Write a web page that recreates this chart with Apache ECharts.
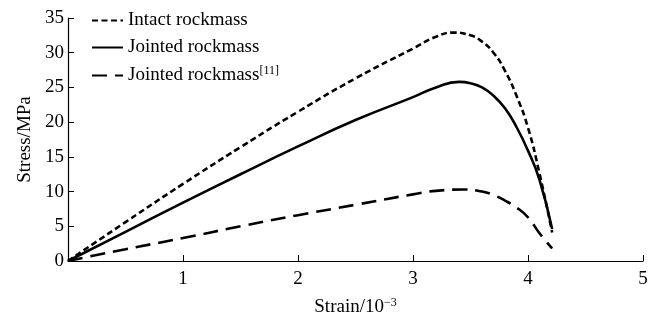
<!DOCTYPE html>
<html lang="en">
<head>
    <meta charset="UTF-8">
    <title>Stress-strain</title>
    <script src="https://cdn.jsdelivr.net/npm/echarts@6/dist/echarts.min.js"></script>
</head>
<body style="margin:0">
    <div id="main" style="width: 655px; height: 322px;"></div>
    <script>
        // strain (10^-3) and stress (MPa)
        const intactStrain = [0, 0.5, 1, 1.5, 2, 2.5, 3, 3.2, 3.35, 3.5, 3.6, 3.7, 3.8, 3.9, 4.0, 4.1, 4.21];
        const intactStress = [0, 5.6, 11.1, 16.4, 21.5, 26.3, 30.6, 32.3, 32.9, 32.5, 31.6, 30.0, 27.4, 23.8, 19.2, 12.6, 4.1];

        const jointStrain = [0, 0.5, 1, 1.5, 2, 2.5, 3, 3.2, 3.4, 3.5, 3.6, 3.7, 3.8, 3.9, 4.0, 4.1, 4.21];
        const jointStress = [0, 4.2, 8.4, 12.5, 16.5, 20.3, 23.6, 25.0, 25.8, 25.6, 25.0, 23.8, 22.0, 19.3, 15.9, 11.7, 4.6];

        const joint11Strain = [0, 0.5, 1, 1.5, 2, 2.5, 3, 3.2, 3.45, 3.6, 3.7, 3.8, 3.9, 4.0, 4.1, 4.21];
        const joint11Stress = [0, 1.7, 3.3, 5.0, 6.6, 8.1, 9.6, 10.1, 10.3, 10.0, 9.5, 8.7, 7.7, 6.3, 4.0, 1.8];

        const seriesNames = ['Intact rockmass', 'Jointed rockmass', 'Jointed rockmass[11]'];

        function pairs(xs, ys) {
            return xs.map((x, i) => [x, ys[i]]);
        }

        const font = 'Liberation Serif';
        var myChart = echarts.init(document.getElementById('main'));

        let option = {
            animation: false,
            grid: { left: 68, right: 12, top: 18, bottom: 56 },
            legend: {
                orient: 'vertical',
                left: 86,
                top: 6,
                itemWidth: 31,
                itemHeight: 10,
                itemGap: 8,
                itemStyle: { opacity: 0 },
                data: seriesNames,
                textStyle: {
                    fontFamily: font,
                    fontSize: 19,
                    color: '#000',
                    rich: {
                        sup: { fontFamily: font, fontSize: 12, color: '#000', padding: [0, 0, 9, 0] }
                    }
                },
                formatter: function (name) {
                    return name.replace('[11]', '{sup|[11]}');
                }
            },
            xAxis: {
                type: 'value',
                min: 0,
                max: 5,
                interval: 1,
                name: 'Strain/10{sup|−3}',
                nameLocation: 'middle',
                nameGap: 36,
                nameTextStyle: {
                    fontFamily: font, fontSize: 19, color: '#000',
                    rich: { sup: { fontFamily: font, fontSize: 12, color: '#000', padding: [0, 0, 9, 0] } }
                },
                axisLine: { lineStyle: { color: '#000', width: 1.2 } },
                axisTick: { inside: true, length: 6, lineStyle: { color: '#000' } },
                axisLabel: {
                    fontFamily: font, fontSize: 19, color: '#000', margin: 9,
                    formatter: v => v === 0 ? '' : String(v)
                },
                splitLine: { show: false }
            },
            yAxis: {
                type: 'value',
                min: 0,
                max: 35,
                interval: 5,
                name: 'Stress/MPa',
                nameLocation: 'middle',
                nameGap: 31,
                nameTextStyle: { fontFamily: font, fontSize: 19, color: '#000' },
                axisLine: { show: true, lineStyle: { color: '#000', width: 1.2 } },
                axisTick: { show: true, inside: true, length: 6, lineStyle: { color: '#000' } },
                axisLabel: { fontFamily: font, fontSize: 19, color: '#000', margin: 4 },
                splitLine: { show: false }
            },
            series: [
                {
                    name: seriesNames[0],
                    type: 'line',
                    data: pairs(intactStrain, intactStress),
                    smooth: 0.5,
                    symbol: 'none',
                    lineStyle: { color: '#000', width: 2.6, type: [6, 3.5] },
                    itemStyle: { color: '#000' }
                },
                {
                    name: seriesNames[1],
                    type: 'line',
                    data: pairs(jointStrain, jointStress),
                    smooth: 0.5,
                    symbol: 'none',
                    lineStyle: { color: '#000', width: 2.6, type: 'solid' },
                    itemStyle: { color: '#000' }
                },
                {
                    name: seriesNames[2],
                    type: 'line',
                    data: pairs(joint11Strain, joint11Stress),
                    smooth: 0.5,
                    symbol: 'none',
                    lineStyle: { color: '#000', width: 2.6, type: [15, 8] },
                    itemStyle: { color: '#000' }
                }
            ]
        };

        myChart.setOption(option);
    </script>
</body>
</html>
